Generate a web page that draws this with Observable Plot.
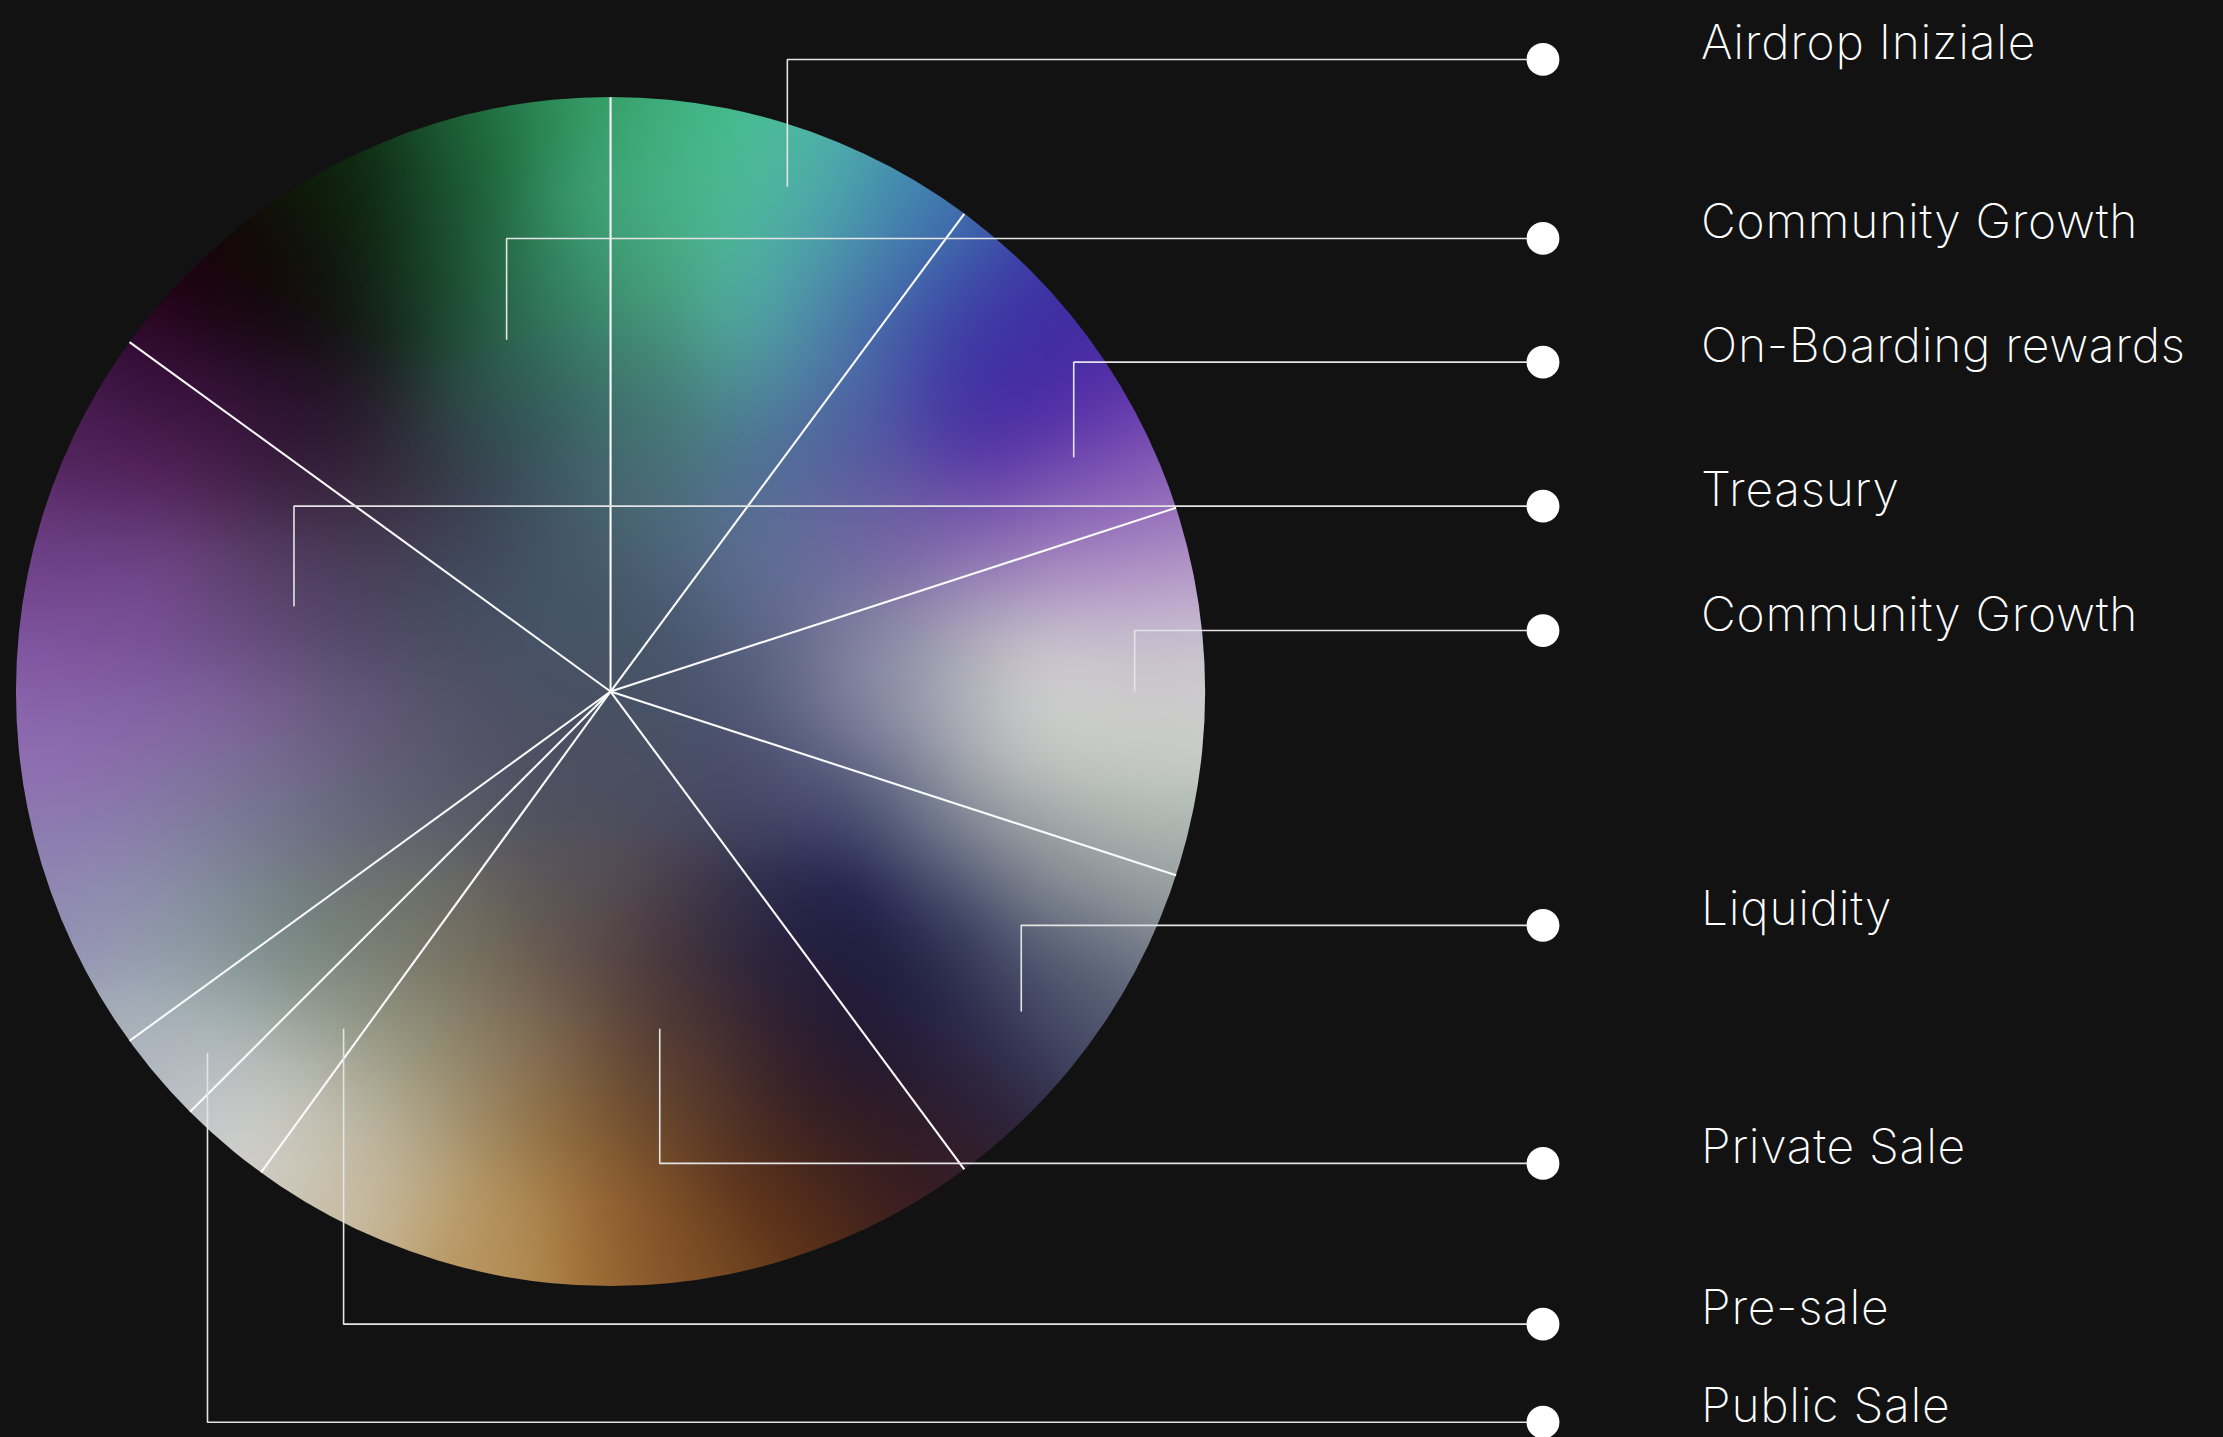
<!DOCTYPE html>
<html><head><meta charset="utf-8">
<script src="https://cdn.jsdelivr.net/npm/d3@7"></script>
<script src="https://cdn.jsdelivr.net/npm/@observablehq/plot@0.6"></script>
<style>html,body{margin:0;padding:0;background:#121212;overflow:hidden}svg{display:block}svg text{letter-spacing:0.7px}</style>
</head><body><div id="chart"></div>
<script>
const labels=["Airdrop Iniziale","Community Growth","On-Boarding rewards","Treasury","Community Growth","Liquidity","Private Sale","Pre-sale","Public Sale"];
const labelY=[41.6,167.9,255.2,356.8,444.6,652.6,820.6,934,1003.2];
const elbowX=[555,357,757,207,800,720,465,242,146];
const endY=[131,239,322,427,487,713,726,726,743];
const sliceShares=[10.14,9.86,10,9.86,20.14,2.5,2.5,20,15];
const colorX=[400,353,306,259,223,188,165,129,235,282,329,376,418,188,235,282,329,376,418,376,418,329,376,418,282,235,188,141,94,94,153,212,270,329,376,418,94,153,200,259,329,400,
54,27,81,27,81,135,189,243,297,351,405,27,81,135,189,243,297,351,405,27,81,135,189,243,297,351,405,54,108,162,216,270,324,391,
100,153,212,259,306,353,400,447,482,165,212,259,306,353,400,447,482,128,165,212,259,306,353,400,447,482,235,282,329,376,423,470,353,435,489,
464,518,572,626,680,734,802,626,680,734,801,572,653,707,761,815,478,613,667,734,802,518,567,464,626,680,734,783,518,572,667,721,761,491,545,599,694,518,572,640,667,532,599,653,478,545,
430,464,518,572,626,667,430,464,518,572,626,680,721,464,518,572,626,680,734,464,518,572,626,680,734,788,464,518,572,626,694,761,810,464,518,572,626,694,761,821,464,518,572,626,694,761,823,464,518,572,626,694,761,826,626,680,734,802,842,430,430,430,430,430];
const colorY=[82,99,111,122,139,162,181,209,169,169,169,181,169,216,216,216,216,216,216,263,263,299,299,299,310,287,287,275,275,334,334,334,357,357,357,357,416,405,393,405,405,405,
314,395,381,462,449,435,435,435,435,435,449,530,516,503,503,503,503,503,516,597,584,570,570,570,570,570,597,643,638,638,643,638,638,638,
724,682,682,682,670,670,670,670,659,741,729,729,729,729,729,729,729,755,788,788,788,788,788,788,788,788,835,847,859,859,859,859,894,901,898,
535,548,526,507,507,502,507,556,548,548,548,575,583,586,588,602,575,629,629,634,637,642,656,629,683,672,683,683,696,696,724,724,710,737,737,750,764,791,791,791,799,845,831,826,885,864,
70,84,103,119,138,154,130,152,152,165,173,187,206,206,206,211,219,238,238,260,254,260,265,276,276,276,314,308,308,319,314,322,327,368,368,360,362,351,354,351,422,408,403,389,381,381,389,476,470,467,449,422,422,427,484,484,476,470,476,488,530,450,560,622];
const colorHex=["#2c8a58","#217043","#1a5230","#0f2b12","#0e1e0a","#110f08","#160408","#230418","#0f170c","#153a20","#1f5a36","#2c7a54","#3a9a70","#150a10","#12120f","#163020","#1f5036","#2f7056","#3c8f72","#2f5e54","#3d7a6e","#304a4c","#335456","#3f6a6c","#2c2c36","#26162a","#2e1232","#36123a","#3a1240","#55245e","#4c2250","#38203e","#3e3044","#3c3e50","#3f505e","#486270","#764a94","#624070","#4e3a5e","#48405a","#3e4a5c","#425666",
"#4e2258","#6e3f86","#633a78","#8058a2","#7a5296","#704d8c","#614a78","#544668","#4a4a62","#465064","#465468","#8e6cb0","#8868a8","#8064a0","#76608f","#665a7c","#59556e","#4e5064","#4c5064","#8c7eb0","#8a7aac","#807a9e","#767490","#68687e","#5e5e6e","#565664","#50505c","#9290b2","#8e92aa","#7f8a96","#74807e","#6e746e","#6a6c66","#5c5654",
"#a8b0ba","#8e9ea2","#7d8e86","#80847a","#7a7868","#726654","#62524e","#4e3e40","#40343e","#b0b8b8","#a6ada6","#9a9c88","#8e8a72","#887860","#76604a","#60483a","#543830","#b4bac0","#cdcecd","#c6c6bc","#b8b29c","#aa9c7e","#9a8058","#8a6840","#72502e","#66422a","#c8c0ac","#c2b08e","#b89a68","#ac864e","#986634","#82522a","#b48e58","#9c6c34","#7e5028",
"#4a5268","#484a68","#5e6484","#8a8ca4","#b2b4ba","#cbcccb","#cacbc8","#555d7c","#9ea3aa","#bdc2be","#c0c6c0","#44466a","#6c7288","#848a94","#9ca4a4","#a4aeaa","#464860","#24244f","#4a5070","#7a808c","#8a9096","#322e4a","#262444","#4c3e48","#20203e","#323658","#505870","#666e80","#322636","#2a1e38","#2a2444","#3a3a58","#4a5068","#4a3434","#36222c","#261a30","#2e2842","#4c3026","#3c2222","#2c1a28","#2c1c30","#5c3219","#42241e","#3c1e20","#7a4c24","#5e341a",
"#3aa56e","#3fae7e","#48ba90","#4fafa8","#4590ae","#3f72ae","#43a67a","#45ac82","#4cb596","#4da2a8","#4680ac","#3d52a8","#3f37a4","#479a78","#4eaea0","#4d8ea8","#4564a8","#3e3fa5","#402ca2","#437f74","#4f9a98","#4d7da2","#4a5ea6","#4534a2","#4a2ea4","#5a34a8","#477272","#4c7a90","#50689e","#5452a0","#5133a4","#6c42ae","#7c50b4","#4a6878","#556e90","#5e689a","#6a5ea2","#6e4eaa","#8760b4","#9a74bc","#4a5a70","#5a6a8c","#6a6e9a","#7a68a4","#8a6cb0","#a280bf","#a888c0","#48546c","#545c7a","#6a6e8c","#8a8aa6","#a698bc","#b8a4c8","#c0acd0","#8f8fa8","#acacb6","#cbcacc","#c8c4cc","#cccacd","#465262","#484e60","#465464","#4e4e5c","#5a5256"];

const discX=430.3, discY=487.6, discR=419.4;
const target=colorHex.map(h=>{const c=d3.rgb(h);return [c.r,c.g,c.b]});
let coef=target.map(c=>c.slice());
const sigma2=2*36*36;
function field(x,y){
  let w=1e-12,r=0,g=0,b=0;
  for(let i=0;i<coef.length;i++){
    const dx=x-colorX[i],dy=y-colorY[i];
    const k=Math.exp(-(dx*dx+dy*dy)/sigma2);
    w+=k;r+=k*coef[i][0];g+=k*coef[i][1];b+=k*coef[i][2];
  }
  return [r/w,g/w,b/w];
}
for(let it=0;it<2;it++){
  coef=coef.map((c,i)=>{const f=field(colorX[i],colorY[i]);return c.map((v,j)=>v+0.5*(target[i][j]-f[j]));});
}
const clamp=v=>Math.max(0,Math.min(255,Math.round(v)));
function discColor(x,y){const f=field(x,y);return `rgb(${clamp(f[0])},${clamp(f[1])},${clamp(f[2])})`;}
let acc=0;
const spokes=sliceShares.map(s=>{
  const a=acc/100*2*Math.PI; acc+=s;
  return {x1:discX,y1:discY,x2:discX+discR*Math.sin(a),y2:discY-discR*Math.cos(a)};
});
const dotX=1088, textX=1199.5;
const leaders=labels.flatMap((l,i)=>[
  {k:i,x:dotX,y:labelY[i]},{k:i,x:elbowX[i],y:labelY[i]},{k:i,x:elbowX[i],y:endY[i]}
]);
const rows=labels.map((l,i)=>({label:l,y:labelY[i]}));

const plot=Plot.plot({
  width:2223,height:1437,margin:0,
  style:{background:"#121212"},
  x:{domain:[0,1568],range:[0,2223],axis:null},
  y:{domain:[0,1014],range:[0,1437],axis:null},
  color:{type:"identity"},
  marks:[
    Plot.raster({
      x1:discX-discR-2,x2:discX+discR+2,y1:discY-discR-2,y2:discY+discR+2,
      fill:discColor,pixelSize:2,imageRendering:"auto",
      render(index,scales,values,dims,ctx,next){
        const g=next(index,scales,values,dims,ctx);
        const ns="http://www.w3.org/2000/svg";
        const cp=document.createElementNS(ns,"clipPath");cp.setAttribute("id","disc-clip");
        const c=document.createElementNS(ns,"circle");
        c.setAttribute("cx",scales.x(discX));c.setAttribute("cy",scales.y(discY));
        c.setAttribute("r",scales.x(discX+discR)-scales.x(discX));
        cp.appendChild(c);g.appendChild(cp);
        g.setAttribute("clip-path","url(#disc-clip)");
        return g;
      }
    }),
    Plot.link(spokes,{x1:"x1",y1:"y1",x2:"x2",y2:"y2",stroke:"#fafafa",strokeWidth:2.1,markerEnd:null}),
    Plot.line(leaders,{x:"x",y:"y",z:"k",stroke:"#e4e4e4",strokeWidth:1.6,curve:"linear",strokeLinejoin:"miter"}),
    Plot.dot(rows,{x:()=>dotX,y:"y",r:16.4,fill:"#fff",stroke:null}),
    Plot.text(rows,{x:()=>textX,y:"y",text:"label",textAnchor:"start",lineAnchor:"bottom",fill:"#fff",fontSize:48,fontFamily:"Inter",fontWeight:200})
  ]
});
document.getElementById("chart").appendChild(plot);
</script></body></html>
